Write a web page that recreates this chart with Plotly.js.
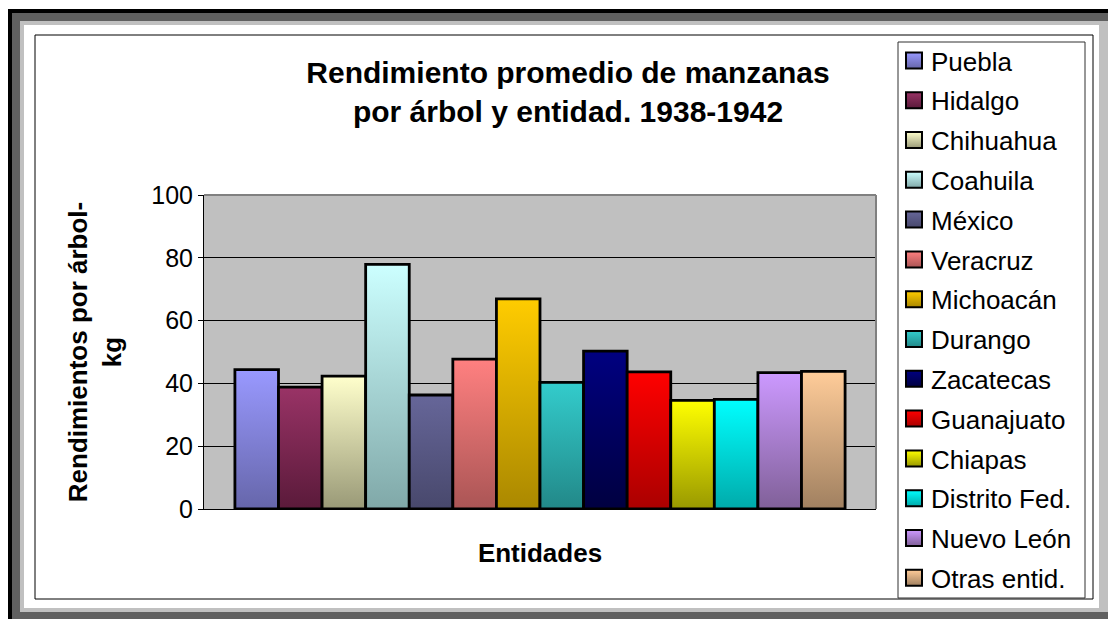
<!DOCTYPE html>
<html>
<head>
<meta charset="utf-8">
<script src="https://cdn.plot.ly/plotly-3.0.1.min.js"></script>
<style>
  html, body { margin:0; padding:0; width:1108px; height:619px; overflow:hidden; background:#fff; }
  .fr { position:absolute; }
  #f1 { left:8px; top:9px; width:1200px; height:700px; background:#000; }
  #f2 { left:12px; top:13px; width:1200px; height:700px; background:#606060; }
  #f3 { left:20px; top:21px; width:1200px; height:591px; background:#c0c0c0; }
  #f4 { left:24px; top:25px; width:1075px; height:583px; background:#fff; }
  #chart { position:absolute; left:0; top:0; width:1108px; height:619px; }
</style>
</head>
<body>
<div class="fr" id="f1"></div>
<div class="fr" id="f2"></div>
<div class="fr" id="f3"></div>
<div class="fr" id="f4"></div>
<div id="chart"></div>
<script>
// ---- data ----
const entidades = ['Puebla','Hidalgo','Chihuahua','Coahuila','México','Veracruz','Michoacán','Durango','Zacatecas','Guanajuato','Chiapas','Distrito Fed.','Nuevo León','Otras entid.'];
const rendimientos = [44.4, 38.8, 42.3, 77.9, 36.3, 47.7, 66.9, 40.3, 50.3, 43.7, 34.6, 34.9, 43.4, 43.8];
const categoria = ['Entidades'];
const yTicks = [0, 20, 40, 60, 80, 100];

// ---- styles ----
const topColors = ['#9999ff','#993366','#ffffcc','#ccffff','#666699','#ff8080','#ffcc00','#33cccc','#000080','#ff0000','#ffff00','#00ffff','#cc99ff','#ffcc99'];
const bottomColors = ['#6666aa','#5a1a3a','#999977','#80a8a8','#48486c','#aa5555','#aa8800','#228888','#000040','#aa0000','#999900','#00aaaa','#806098','#a08060'];
const midColors = ['#8080d8','#7a2a52','#ccccA0','#a6d4d4','#585884','#d46a6a','#d4a800','#2aaaaa','#000066','#d40000','#cccc00','#00d4d4','#a67ccc','#cca67c'];

const FONT = 'Liberation Sans, Arial, Helvetica, sans-serif';
const L = 204, R = 876, T = 195, B = 509;
const W = R - L, H = B - T;
const px = x => (x - L) / W;
const py = y => (B - y) / H;

const traces = entidades.map((name, i) => ({
  type: 'bar',
  name: name,
  x: categoria,
  y: [rendimientos[i]],
  legendgroup: 'g' + i,
  marker: { color: midColors[i], line: { color: '#000', width: 2.8 } },
  hoverinfo: 'name+y'
}));

const layout = {
  width: 1108, height: 619,
  margin: { l: L, r: 1108 - R, t: T, b: 619 - B, pad: 0 },
  paper_bgcolor: 'rgba(0,0,0,0)',
  plot_bgcolor: '#c0c0c0',
  barmode: 'group',
  bargap: 0.092,
  bargroupgap: 0,
  font: { family: FONT, color: '#000' },
  title: {
    text: 'Rendimiento promedio de manzanas<br>por árbol y entidad. 1938-1942',
    font: { family: FONT, size: 30, weight: 700, color: '#000' },
    xref: 'paper', x: px(568), xanchor: 'center',
    yref: 'container', y: 1 - 83 / 619, yanchor: 'top'
  },
  xaxis: {
    type: 'category',
    showticklabels: false,
    ticks: '',
    showgrid: false,
    showline: true, linecolor: '#000', linewidth: 1,
    zeroline: false,
    title: { text: 'Entidades', font: { family: FONT, size: 26, weight: 700 }, standoff: 34 }
  },
  yaxis: {
    range: [0, 100],
    tickvals: yTicks,
    ticktext: yTicks.map(String),
    ticks: 'outside', ticklen: 5, tickcolor: '#000', tickwidth: 1,
    tickfont: { family: FONT, size: 25, color: '#000' },
    showgrid: true, gridcolor: '#000', gridwidth: 1,
    showline: true, linecolor: '#000', linewidth: 1,
    zeroline: false,
    title: { text: 'Rendimientos por árbol-<br>kg', font: { family: FONT, size: 26, weight: 700 }, standoff: 22 }
  },
  showlegend: true,
  legend: {
    x: px(891), xanchor: 'left',
    y: py(37), yanchor: 'top',
    bgcolor: 'rgba(0,0,0,0)',
    borderwidth: 0,
    maxheight: 1,
    font: { family: FONT, size: 26, color: '#000' },
    tracegroupgap: 3,
    traceorder: 'grouped',
    itemclick: false, itemdoubleclick: false
  },
  shapes: [
    // gray plot border top/right
    { type: 'line', xref: 'paper', yref: 'paper', x0: 0, x1: 1, y0: 1, y1: 1, line: { color: '#808080', width: 2 } },
    { type: 'line', xref: 'paper', yref: 'paper', x0: 1, x1: 1, y0: 0, y1: 1, line: { color: '#808080', width: 2 } },
    // chart area border
    { type: 'rect', xref: 'paper', yref: 'paper', x0: px(35), x1: px(1093), y0: py(599), y1: py(35), line: { color: '#000', width: 1 }, layer: 'above' },
    // legend border
    { type: 'rect', xref: 'paper', yref: 'paper', x0: px(898), x1: px(1085), y0: py(598), y1: py(42), line: { color: '#303030', width: 1 }, layer: 'above' }
  ]
};

Plotly.newPlot('chart', traces, layout, { staticPlot: true, displayModeBar: false }).then(gd => {
  try {
    const NS = 'http://www.w3.org/2000/svg';
    const svg = gd.querySelector('svg.main-svg');
    let defs = svg.querySelector('defs');
    if (!defs) { defs = document.createElementNS(NS, 'defs'); svg.insertBefore(defs, svg.firstChild); }
    topColors.forEach((c, i) => {
      const g = document.createElementNS(NS, 'linearGradient');
      g.setAttribute('id', 'bgrad' + i);
      g.setAttribute('x1', '0'); g.setAttribute('y1', '0');
      g.setAttribute('x2', '0'); g.setAttribute('y2', '1');
      const s1 = document.createElementNS(NS, 'stop');
      s1.setAttribute('offset', '0'); s1.setAttribute('stop-color', c);
      const s2 = document.createElementNS(NS, 'stop');
      s2.setAttribute('offset', '1'); s2.setAttribute('stop-color', bottomColors[i]);
      g.appendChild(s1); g.appendChild(s2);
      defs.appendChild(g);
    });
    gd.querySelectorAll('.barlayer .trace').forEach((t, i) => {
      t.querySelectorAll('path').forEach(p => { p.style.fill = 'url(#bgrad' + i + ')'; });
    });
    gd.querySelectorAll('.legend .traces').forEach((t, i) => {
      t.querySelectorAll('.legendpoints path').forEach(p => {
        p.setAttribute('d', 'M11,8H-5V-8H11Z');
        p.style.fill = 'url(#bgrad' + i + ')';
        p.style.stroke = '#000';
        p.style.strokeWidth = '2px';
      });
    });
  } catch (e) { /* keep solid colours */ }
});
</script>
</body>
</html>
